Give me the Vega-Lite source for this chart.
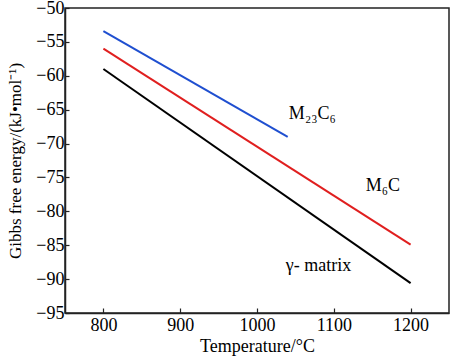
{
  "$schema": "https://vega.github.io/schema/vega-lite/v6.json",
  "width": 384,
  "height": 305,
  "autosize": "none",
  "padding": {"left": 65, "top": 8, "right": 1, "bottom": 48},
  "background": "white",
  "config": {
    "view": {"stroke": "#222", "strokeWidth": 1.5},
    "font": "Liberation Serif"
  },
  "datasets": {
    "lines": [
      {"phase": "M23C6", "temperature": 800, "energy": -53.4},
      {"phase": "M23C6", "temperature": 1040, "energy": -69.0},
      {"phase": "M6C", "temperature": 800, "energy": -56.0},
      {"phase": "M6C", "temperature": 1200, "energy": -84.9},
      {"phase": "gamma", "temperature": 800, "energy": -59.0},
      {"phase": "gamma", "temperature": 1200, "energy": -90.6}
    ],
    "labels": [
      {"text": "M₂₃C₆", "temperature": 1072, "energy": -65.6},
      {"text": "M₆C", "temperature": 1164, "energy": -76.2},
      {"text": "γ- matrix", "temperature": 1080, "energy": -88.0}
    ]
  },
  "encoding": {
    "x": {
      "field": "temperature", "type": "quantitative",
      "scale": {"domain": [750, 1250], "nice": false},
      "axis": {
        "values": [800, 900, 1000, 1100, 1200], "format": "d",
        "tickSize": -5, "tickColor": "#222", "tickWidth": 1.2,
        "domainColor": "#222", "domainWidth": 1.5, "zindex": 1,
        "labelFont": "Liberation Serif", "labelFontSize": 18, "labelColor": "black", "labelPadding": 8, "labelOverlap": false, "labelFlush": false,
        "title": "Temperature/°C", "titleFont": "Liberation Serif", "titleFontSize": 18, "titleFontWeight": "normal", "titleColor": "black", "titlePadding": 3,
        "grid": false
      }
    },
    "y": {
      "field": "energy", "type": "quantitative",
      "scale": {"domain": [-95, -50], "nice": false, "zero": false},
      "axis": {
        "values": [-95, -90, -85, -80, -75, -70, -65, -60, -55, -50], "format": "d",
        "tickSize": -4, "tickColor": "#222", "tickWidth": 1.2,
        "domainColor": "#222", "domainWidth": 1.5, "zindex": 1,
        "labelFont": "Liberation Serif", "labelFontSize": 18, "labelColor": "black", "labelPadding": 5, "labelOverlap": false, "labelFlush": false,
        "title": "Gibbs free energy/(kJ•mol⁻¹)", "titleFont": "Liberation Serif", "titleFontSize": 17, "titleFontWeight": "normal", "titleColor": "black", "titlePadding": 11,
        "grid": false
      }
    }
  },
  "layer": [
    {
      "data": {"name": "lines"},
      "mark": {"type": "line", "strokeWidth": 2},
      "encoding": {
        "color": {
          "field": "phase", "type": "nominal",
          "scale": {"domain": ["M23C6", "M6C", "gamma"], "range": ["#1f4fd0", "#e01f1f", "#000000"]},
          "legend": null
        }
      }
    },
    {
      "data": {"name": "labels"},
      "mark": {"type": "text", "fontSize": 18, "font": "Liberation Serif", "color": "black"},
      "encoding": {
        "text": {"field": "text"}
      }
    }
  ]
}
